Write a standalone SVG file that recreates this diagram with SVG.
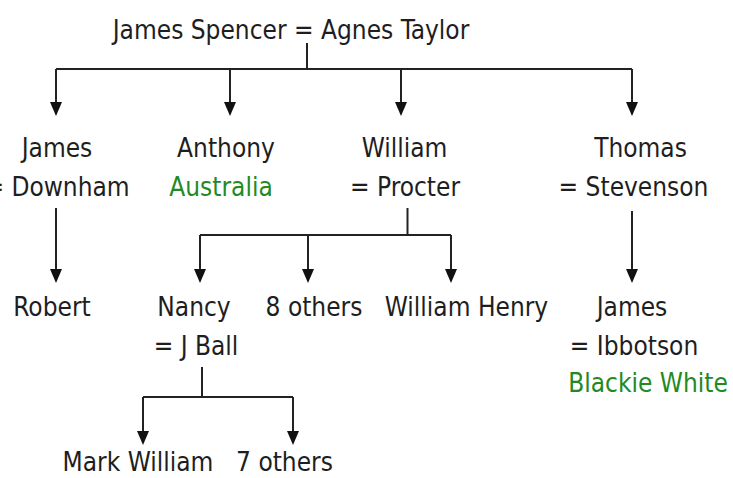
<svg xmlns="http://www.w3.org/2000/svg" width="733" height="478" viewBox="0 0 733 478">
<defs>
<style>
text{font-family:"DejaVu Sans Condensed","DejaVu Sans",sans-serif;font-size:26px;fill:#1e1e1e;text-anchor:middle}
text.g{fill:#238a23}
.c path{fill:none;stroke:#222;stroke-width:2}
.c path.a{marker-end:url(#ah)}
</style>
<marker id="ah" viewBox="0 -6 14 12" refX="4" refY="0" markerWidth="14" markerHeight="12" markerUnits="userSpaceOnUse" orient="auto">
<path d="M0,-6 L14,0 L0,6 z" fill="#111"/>
</marker>
</defs>
<rect width="733" height="478" fill="#fff"/>
<g class="c" id="connectors">
<path d="M307,43 V69"/>
<path d="M56,69 H632"/>
<path class="a" d="M56,69 V106"/>
<path class="a" d="M230,69 V106"/>
<path class="a" d="M401,69 V106"/>
<path class="a" d="M632,69 V106"/>
<path class="a" d="M56,208 V273"/>
<path d="M407.5,208 V235"/>
<path d="M200,235 H451"/>
<path class="a" d="M200,235 V273"/>
<path class="a" d="M308,235 V273"/>
<path class="a" d="M451,235 V273"/>
<path class="a" d="M632,211 V273"/>
<path d="M202,367 V397"/>
<path d="M143,397 H293"/>
<path class="a" d="M143,397 V435"/>
<path class="a" d="M293,397 V435"/>
</g>
<g id="n-root"><text x="291" y="39">James Spencer = Agnes Taylor</text></g>
<g id="n-james"><text x="57" y="157">James</text><text x="57" y="196">= Downham</text></g>
<g id="n-anthony"><text x="226" y="157">Anthony</text><text class="g" x="221" y="196">Australia</text></g>
<g id="n-william"><text x="404.5" y="157">William</text><text x="405" y="196">= Procter</text></g>
<g id="n-thomas"><text x="640.5" y="157">Thomas</text><text x="633.5" y="196">= Stevenson</text></g>
<g id="n-robert"><text x="52" y="316">Robert</text></g>
<g id="n-nancy"><text x="194" y="316">Nancy</text><text x="196" y="355">= J Ball</text></g>
<g id="n-8others"><text x="314" y="316">8 others</text></g>
<g id="n-williamhenry"><text x="466.5" y="316">William Henry</text></g>
<g id="n-james2"><text x="632" y="316">James</text><text x="634" y="355">= Ibbotson</text><text class="g" x="648" y="392">Blackie White</text></g>
<g id="n-markwilliam"><text x="138" y="471">Mark William</text></g>
<g id="n-7others"><text x="284.5" y="471">7 others</text></g>
</svg>
